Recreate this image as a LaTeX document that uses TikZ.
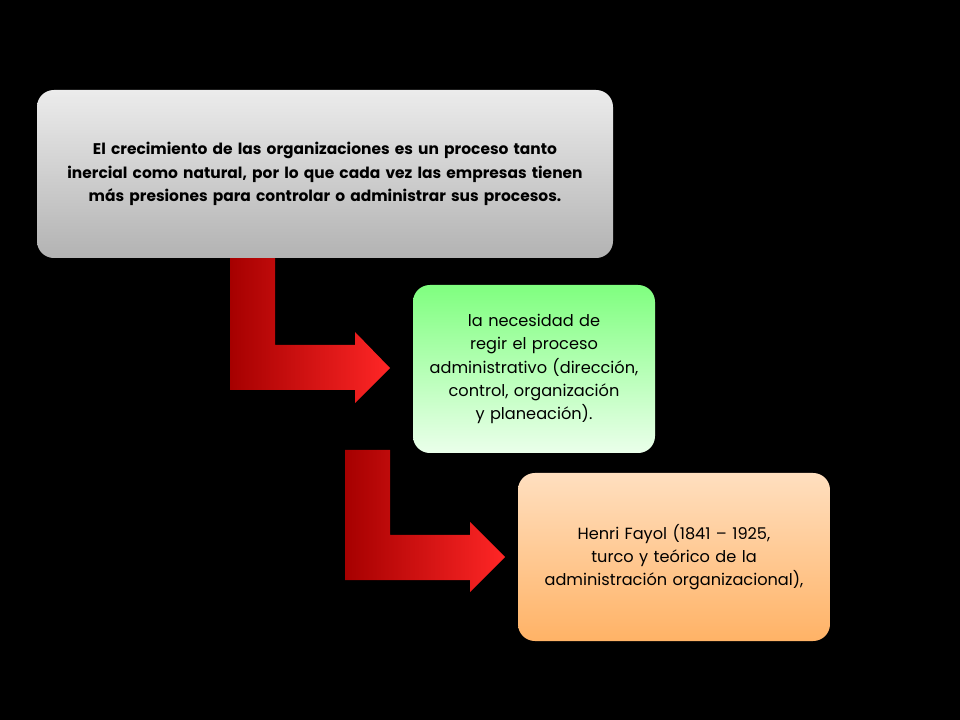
\documentclass[tikz,border=0pt]{standalone}
\usepackage{fontspec}
\setmainfont{Poppins}
\hyphenpenalty=10000
\exhyphenpenalty=10000
\begin{document}
\begin{tikzpicture}[x=0.025cm,y=-0.025cm,
  boxst/.style={rounded corners=12pt,minimum height=168*0.025cm,align=center,text=black,inner sep=6pt},
  arrowst/.style={left color=red!65!black,right color=red!85!white,draw=none}]
\fill[black] (0,0) rectangle (960,720);
\useasboundingbox (0,0) rectangle (960,720);
% arrows
\path[arrowst] (230,258) -- (275,258) -- (275,345) -- (355,345) -- (355,332) -- (390,368) -- (355,403) -- (355,390) -- (230,390) -- cycle;
\path[arrowst] (345,450) -- (390,450) -- (390,535) -- (470,535) -- (470,522) -- (505,557) -- (470,592) -- (470,580) -- (345,580) -- cycle;
% boxes
\node[boxst,minimum width=576*0.025cm,text width=530*0.025cm,top color=gray!15,bottom color=gray!60,font=\bfseries\fontsize{11}{16.5}\selectfont] (a) at (325,174)
 {El crecimiento de las organizaciones es un proceso tanto inercial como natural, por lo que cada vez las empresas tienen más presiones para controlar o administrar sus procesos.};
\node[boxst,minimum width=242*0.025cm,text width=220*0.025cm,top color=green!50!white,bottom color=green!8!white,font=\fontsize{11.5}{16.5}\selectfont] (b) at (534,369)
 {la necesidad de regir el proceso administrativo (dirección, control, organización y planeación).};
\node[boxst,minimum width=312*0.025cm,text width=280*0.025cm,top color=orange!25!white,bottom color=orange!60!white,font=\fontsize{11.5}{16.5}\selectfont] (c) at (674,557)
 {Henri Fayol (1841 – 1925, turco y teórico de la administración organizacional),};
\end{tikzpicture}
\end{document}
